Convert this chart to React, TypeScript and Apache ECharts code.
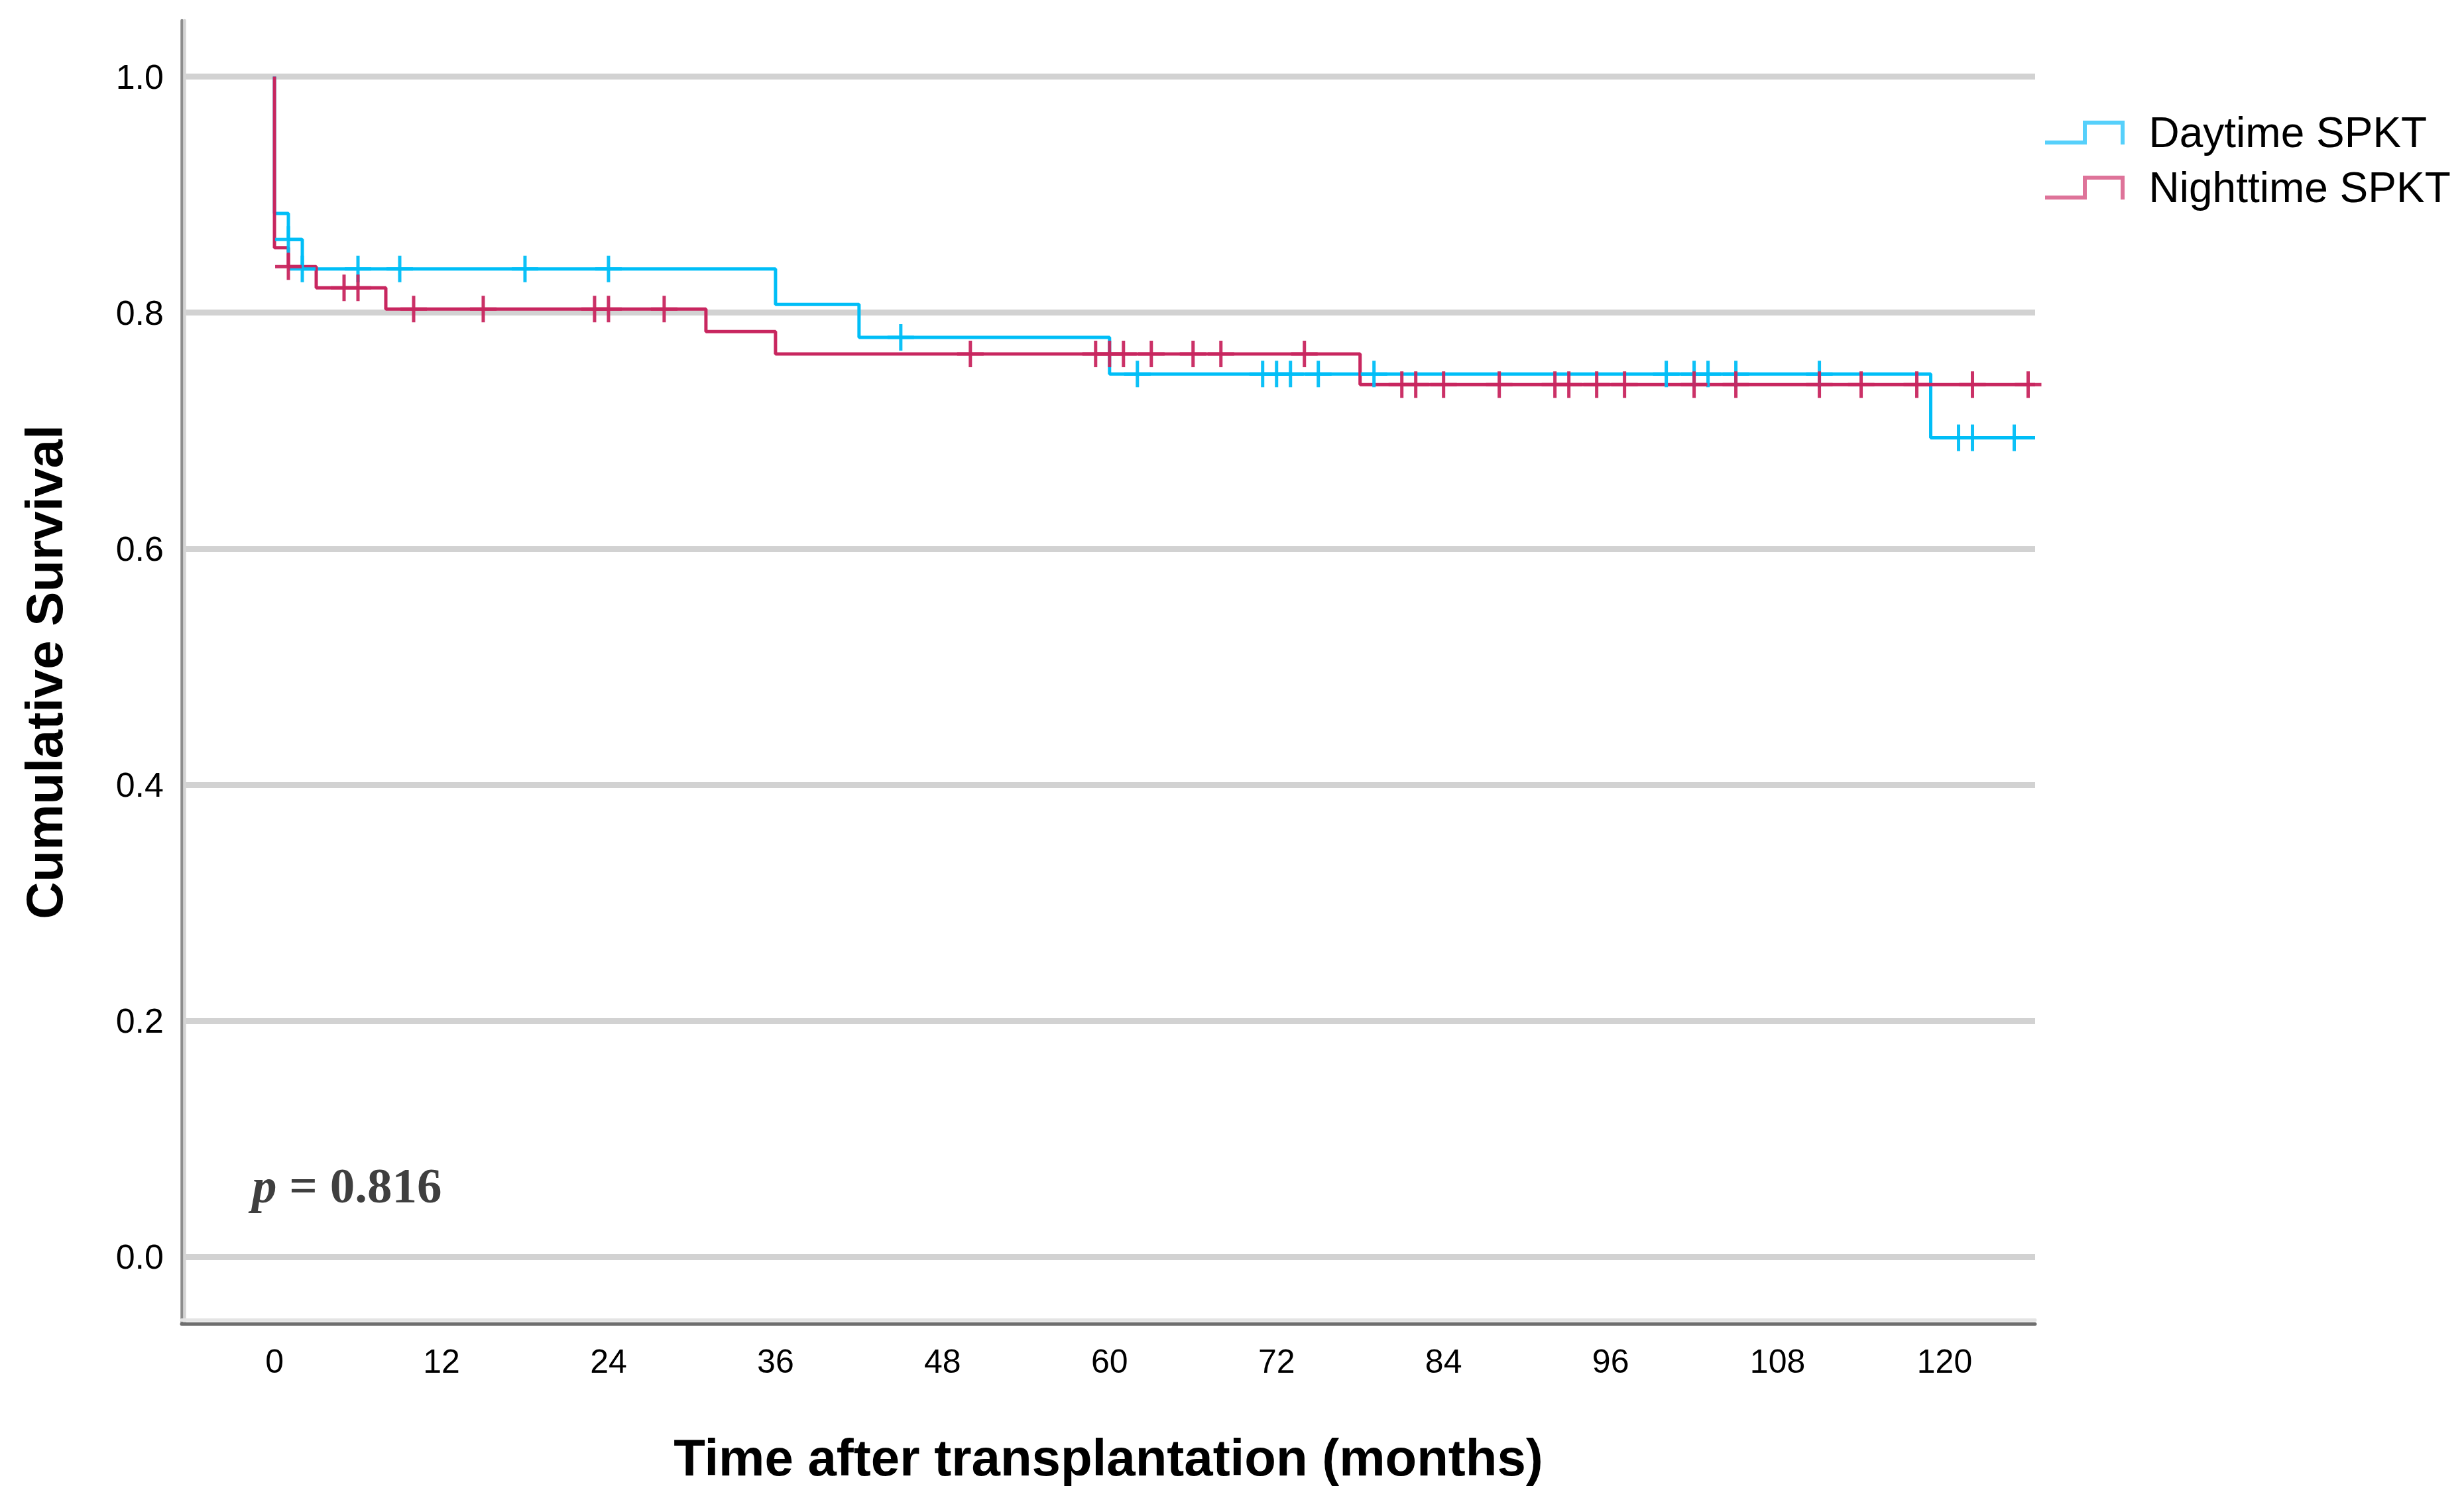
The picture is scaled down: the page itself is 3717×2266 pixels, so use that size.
import React, { useEffect, useRef } from "react";
import * as echarts from "echarts";

// ---- Tick values ----
const X_TICKS = [0, 12, 24, 36, 48, 60, 72, 84, 96, 108, 120];
const Y_TICKS = [0, 0.2, 0.4, 0.6, 0.8, 1.0];

// ---- Series names ----
const DAY_NAME = "Daytime SPKT";
const NIGHT_NAME = "Nighttime SPKT";

// ---- Kaplan-Meier steps (time in months, survival after the step) ----
const dayStepTimes = [0, 0, 1, 2, 36, 42, 60, 119, 126.5];
const daySurvival = [1, 0.884, 0.862, 0.837, 0.807, 0.779, 0.748, 0.694, 0.694];
const dayCensorTimes = [1, 2, 6, 9, 18, 24, 45, 62, 71, 72, 73, 75, 79, 100, 102, 103, 105, 111, 121, 122, 125];

const nightStepTimes = [0, 0, 1, 3, 8, 31, 36, 78, 126.5];
const nightSurvival = [1, 0.855, 0.839, 0.821, 0.803, 0.784, 0.765, 0.739, 0.739];
const nightCensorTimes = [1, 5, 6, 10, 15, 23, 24, 28, 50, 59, 60, 61, 63, 66, 68, 74, 81, 82, 84, 88, 92, 93, 95, 97, 102, 105, 111, 114, 118, 122, 126];

const P_TEXT = "{i|p} = 0.816";
const X_TITLE = "Time after transplantation (months)";
const Y_TITLE = "Cumulative Survival";

const DAY_COLOR = "#00BEF7";
const NIGHT_COLOR = "#C8265F";
const DAY_LEGEND = "#56D0FB";
const NIGHT_LEGEND = "#DE7399";

const SANS = '"Liberation Sans", Arial, sans-serif';
const SERIF = '"Liberation Serif", "Times New Roman", serif';

const PLUS = "path://M0,17.5H40V22.5H0Z M17.5,0H22.5V40H17.5Z";
const STEP_ICON = "path://M0,30L57,30L57,0L120,0L120,36L114,36L114,6L63,6L63,36L0,36Z";

function survivalAt(times: number[], surv: number[], t: number): number {
  let v = surv[0];
  for (let i = 0; i < times.length; i++) {
    if (times[i] <= t) v = surv[i];
  }
  return v;
}

const X_MIN = -6.67;
const X_MAX = 126.5;
const Y_MIN = -0.0567;
const Y_MAX = 1.0475;

export default function App() {
  const ref = useRef<HTMLDivElement>(null);

  useEffect(() => {
    if (!ref.current) return;
    const chart = echarts.init(ref.current, undefined, { renderer: "svg" });

    const option: any = {
      animation: false,
      backgroundColor: "#ffffff",
      grid: {
        left: 274,
        right: 647,
        top: 31,
        bottom: 269,
        containLabel: false,
        outerBoundsMode: "none",
      },
      legend: {
        orient: "vertical",
        left: 3080,
        top: 163,
        itemWidth: 121,
        itemHeight: 36,
        itemGap: 19,
        icon: STEP_ICON,
        textStyle: {
          fontSize: 64,
          fontFamily: SANS,
          color: "#000000",
          padding: [0, 0, 0, 31],
        },
        data: [
          { name: DAY_NAME, itemStyle: { color: DAY_LEGEND } },
          { name: NIGHT_NAME, itemStyle: { color: NIGHT_LEGEND } },
        ],
      },
      xAxis: [
        {
          type: "value",
          min: X_MIN,
          max: X_MAX,
          position: "bottom",
          axisLine: { show: true, onZero: false, lineStyle: { color: "#6E6E6E", width: 5 } },
          axisTick: { show: false, customValues: X_TICKS },
          axisLabel: {
            customValues: X_TICKS,
            margin: 32,
            fontSize: 50,
            fontFamily: SANS,
            color: "#000000",
            showMinLabel: true,
            showMaxLabel: true,
          },
          splitLine: { show: false },
          name: X_TITLE,
          nameLocation: "middle",
          nameGap: 163,
          nameTextStyle: { fontSize: 78, fontWeight: "bold", fontFamily: SANS, color: "#000000" },
        },
        {
          type: "value",
          min: X_MIN,
          max: X_MAX,
          position: "bottom",
          offset: -6,
          axisLine: { show: true, onZero: false, lineStyle: { color: "#E4E4E4", width: 5 } },
          axisTick: { show: false },
          axisLabel: { show: false },
          splitLine: { show: false },
        },
      ],
      yAxis: [
        {
          type: "value",
          min: Y_MIN,
          max: Y_MAX,
          position: "left",
          axisLine: { show: true, onZero: false, lineStyle: { color: "#8C8C8C", width: 4.5 } },
          axisTick: { show: false, customValues: Y_TICKS },
          axisLabel: {
            customValues: Y_TICKS,
            formatter: (v: number) => v.toFixed(1),
            margin: 27,
            fontSize: 52,
            fontFamily: SANS,
            color: "#000000",
            showMinLabel: true,
            showMaxLabel: true,
          },
          splitLine: {
            show: true,
            showMinLine: true,
            showMaxLine: true,
            lineStyle: { color: "#D2D2D2", width: 9 },
          },
          name: Y_TITLE,
          nameLocation: "middle",
          nameRotate: 90,
          nameGap: 168,
          nameTextStyle: { fontSize: 78, fontWeight: "bold", fontFamily: SANS, color: "#000000" },
        },
        {
          type: "value",
          min: Y_MIN,
          max: Y_MAX,
          position: "left",
          offset: -4.5,
          axisLine: { show: true, onZero: false, lineStyle: { color: "#D4D4D4", width: 4.5 } },
          axisTick: { show: false },
          axisLabel: { show: false },
          splitLine: { show: false },
        },
      ],
      series: [
        {
          name: DAY_NAME,
          type: "line",
          step: "end",
          symbol: "none",
          showSymbol: false,
          data: dayStepTimes.map((t, i) => [t, daySurvival[i]]),
          lineStyle: { color: DAY_COLOR, width: 5 },
          itemStyle: { color: DAY_COLOR },
          z: 2,
        },
        {
          name: NIGHT_NAME,
          type: "line",
          step: "end",
          symbol: "none",
          showSymbol: false,
          data: nightStepTimes.map((t, i) => [t, nightSurvival[i]]),
          lineStyle: { color: NIGHT_COLOR, width: 5 },
          itemStyle: { color: NIGHT_COLOR },
          z: 3,
        },
        {
          name: DAY_NAME + " censored",
          type: "scatter",
          symbol: PLUS,
          symbolSize: 40,
          symbolKeepAspect: true,
          data: dayCensorTimes.map((t) => [t, survivalAt(dayStepTimes, daySurvival, t)]),
          itemStyle: { color: DAY_COLOR, opacity: 0.95 },
          z: 4,
        },
        {
          name: NIGHT_NAME + " censored",
          type: "scatter",
          symbol: PLUS,
          symbolSize: 40,
          symbolKeepAspect: true,
          data: nightCensorTimes.map((t) => [t, survivalAt(nightStepTimes, nightSurvival, t)]),
          itemStyle: { color: NIGHT_COLOR, opacity: 0.95 },
          z: 5,
        },
      ],
      graphic: [
        {
          type: "text",
          x: 380,
          y: 1788,
          style: {
            text: P_TEXT,
            fill: "#3F3F3F",
            fontSize: 75,
            fontWeight: "bold",
            fontFamily: SERIF,
            align: "left",
            verticalAlign: "middle",
            rich: {
              i: {
                fontStyle: "italic",
                fontWeight: "bold",
                fontSize: 75,
                fontFamily: SERIF,
                fill: "#3F3F3F",
              },
            },
          },
        },
      ],
    };

    chart.setOption(option);
    return () => {
      chart.dispose();
    };
  }, []);

  return (
    <div
      ref={ref}
      style={{
        position: "fixed",
        left: 0,
        top: 0,
        width: "3717px",
        height: "2266px",
        background: "#ffffff",
      }}
    />
  );
}
